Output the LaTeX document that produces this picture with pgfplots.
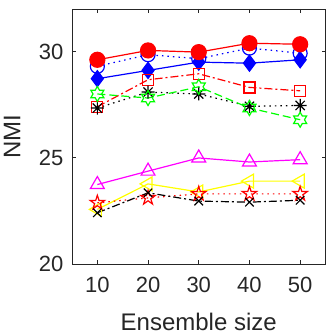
\documentclass[border=0pt]{standalone}
\usepackage{fontspec}
\setmainfont{Liberation Sans}
\usepackage{pgfplots}
\pgfplotsset{compat=1.18}

% matlab-like marks
\pgfdeclareplotmark{pentagram}{%
  \pgfpathmoveto{\pgfpointpolar{90}{\pgfplotmarksize}}%
  \pgfpathlineto{\pgfpointpolar{126}{0.382\pgfplotmarksize}}%
  \pgfpathlineto{\pgfpointpolar{162}{\pgfplotmarksize}}%
  \pgfpathlineto{\pgfpointpolar{198}{0.382\pgfplotmarksize}}%
  \pgfpathlineto{\pgfpointpolar{234}{\pgfplotmarksize}}%
  \pgfpathlineto{\pgfpointpolar{270}{0.382\pgfplotmarksize}}%
  \pgfpathlineto{\pgfpointpolar{306}{\pgfplotmarksize}}%
  \pgfpathlineto{\pgfpointpolar{342}{0.382\pgfplotmarksize}}%
  \pgfpathlineto{\pgfpointpolar{18}{\pgfplotmarksize}}%
  \pgfpathlineto{\pgfpointpolar{54}{0.382\pgfplotmarksize}}%
  \pgfpathclose\pgfusepathqstroke}
\pgfdeclareplotmark{hexagram}{%
  \pgfpathmoveto{\pgfpointpolar{90}{\pgfplotmarksize}}%
  \pgfpathlineto{\pgfpointpolar{120}{0.577\pgfplotmarksize}}%
  \pgfpathlineto{\pgfpointpolar{150}{\pgfplotmarksize}}%
  \pgfpathlineto{\pgfpointpolar{180}{0.577\pgfplotmarksize}}%
  \pgfpathlineto{\pgfpointpolar{210}{\pgfplotmarksize}}%
  \pgfpathlineto{\pgfpointpolar{240}{0.577\pgfplotmarksize}}%
  \pgfpathlineto{\pgfpointpolar{270}{\pgfplotmarksize}}%
  \pgfpathlineto{\pgfpointpolar{300}{0.577\pgfplotmarksize}}%
  \pgfpathlineto{\pgfpointpolar{330}{\pgfplotmarksize}}%
  \pgfpathlineto{\pgfpointpolar{0}{0.577\pgfplotmarksize}}%
  \pgfpathlineto{\pgfpointpolar{30}{\pgfplotmarksize}}%
  \pgfpathlineto{\pgfpointpolar{60}{0.577\pgfplotmarksize}}%
  \pgfpathclose\pgfusepathqstroke}
\pgfdeclareplotmark{mast}{%
  \pgfpathmoveto{\pgfqpoint{-\pgfplotmarksize}{0pt}}\pgfpathlineto{\pgfqpoint{\pgfplotmarksize}{0pt}}%
  \pgfpathmoveto{\pgfqpoint{0pt}{-\pgfplotmarksize}}\pgfpathlineto{\pgfqpoint{0pt}{\pgfplotmarksize}}%
  \pgfpathmoveto{\pgfpointpolar{45}{\pgfplotmarksize}}\pgfpathlineto{\pgfpointpolar{225}{\pgfplotmarksize}}%
  \pgfpathmoveto{\pgfpointpolar{135}{\pgfplotmarksize}}\pgfpathlineto{\pgfpointpolar{315}{\pgfplotmarksize}}%
  \pgfusepathqstroke}
\pgfdeclareplotmark{ltri}{%
  \pgfpathmoveto{\pgfpointpolar{180}{\pgfplotmarksize}}%
  \pgfpathlineto{\pgfpointpolar{300}{\pgfplotmarksize}}%
  \pgfpathlineto{\pgfpointpolar{60}{\pgfplotmarksize}}%
  \pgfpathclose\pgfusepathqstroke}

\definecolor{axgray}{HTML}{262626}
\definecolor{mmag}{rgb}{1,0,1}
\definecolor{myel}{rgb}{1,1,0}
\definecolor{mgrn}{rgb}{0,1,0}

\begin{document}
\begin{tikzpicture}
\begin{axis}[
    at={(0pt,0pt)}, anchor=south west,
    scale only axis,
    width=253.5pt, height=255pt,
    xmin=5, xmax=55, ymin=20, ymax=32,
    xtick={10,20,30,40,50},
    ytick={20,25,30},
    tick align=inside,
    major tick length=4pt,
    axis line style={axgray, line width=0.7pt},
    every tick/.style={axgray, line width=0.7pt},
    tick label style={font=\fontsize{22}{22}\selectfont, text=axgray},
    /pgf/number format/assume math mode=true,
    xticklabel style={yshift=-10pt},
    yticklabel style={xshift=-5pt},
    xlabel={Ensemble size},
    ylabel={NMI},
    label style={font=\fontsize{24}{24}\selectfont, text=axgray},
    xlabel style={at={(0.5,0)}, anchor=north, yshift=-46pt},
    ylabel style={at={(0,0.5)}, anchor=south, yshift=48pt},
    every axis plot/.append style={line width=1.2pt},
    clip=false,
]
% blue open circles, dotted
\addplot[blue, dash pattern=on 1.5pt off 4pt, mark=o, mark size=7pt, mark options={solid}]
  coordinates {(10,29.30) (20,29.85) (30,29.66) (40,30.16) (50,29.92)};
% blue diamonds, solid
\addplot[blue, mark=diamond*, mark size=8pt, mark options={solid, fill=blue}]
  coordinates {(10,28.72) (20,29.11) (30,29.50) (40,29.45) (50,29.61)};
% red filled circles, solid
\addplot[red, mark=*, mark size=7.5pt, mark options={solid, fill=red}]
  coordinates {(10,29.61) (20,30.05) (30,29.97) (40,30.39) (50,30.34)};
% red squares, dash-dot
\addplot[red, dash pattern=on 8pt off 3pt on 2pt off 3pt, mark=square, mark size=5.5pt, mark options={solid}]
  coordinates {(10,27.40) (20,28.67) (30,28.95) (40,28.31) (50,28.15)};
% black asterisks, dotted
\addplot[black, dash pattern=on 1.5pt off 4pt, mark=mast, mark size=6.5pt, mark options={solid}]
  coordinates {(10,27.34) (20,28.09) (30,28.00) (40,27.42) (50,27.46)};
% green hexagrams, dashed
\addplot[mgrn, dash pattern=on 8pt off 4pt, mark=hexagram, mark size=7.5pt, mark options={solid}]
  coordinates {(10,28.00) (20,27.81) (30,28.34) (40,27.34) (50,26.79)};
% magenta triangles, solid
\addplot[mmag, mark=triangle, mark size=8pt, mark options={solid}]
  coordinates {(10,23.74) (20,24.37) (30,24.99) (40,24.80) (50,24.91)};
% yellow left triangles, solid
\addplot[myel, mark=ltri, mark size=8pt, mark options={solid}]
  coordinates {(10,22.57) (20,23.77) (30,23.39) (40,23.90) (50,23.90)};
% red pentagrams, dotted
\addplot[red, dash pattern=on 1.5pt off 4pt, mark=pentagram, mark size=7.5pt, mark options={solid}]
  coordinates {(10,22.88) (20,23.11) (30,23.30) (40,23.30) (50,23.30)};
% black crosses, dash-dot
\addplot[black, dash pattern=on 8pt off 3pt on 2pt off 3pt, mark=x, mark size=6pt, mark options={solid}]
  coordinates {(10,22.41) (20,23.35) (30,22.96) (40,22.91) (50,23.00)};
\end{axis}
\pgfresetboundingbox
\useasboundingbox (-72pt,-72pt) rectangle (257pt,264pt);
\end{tikzpicture}
\end{document}
